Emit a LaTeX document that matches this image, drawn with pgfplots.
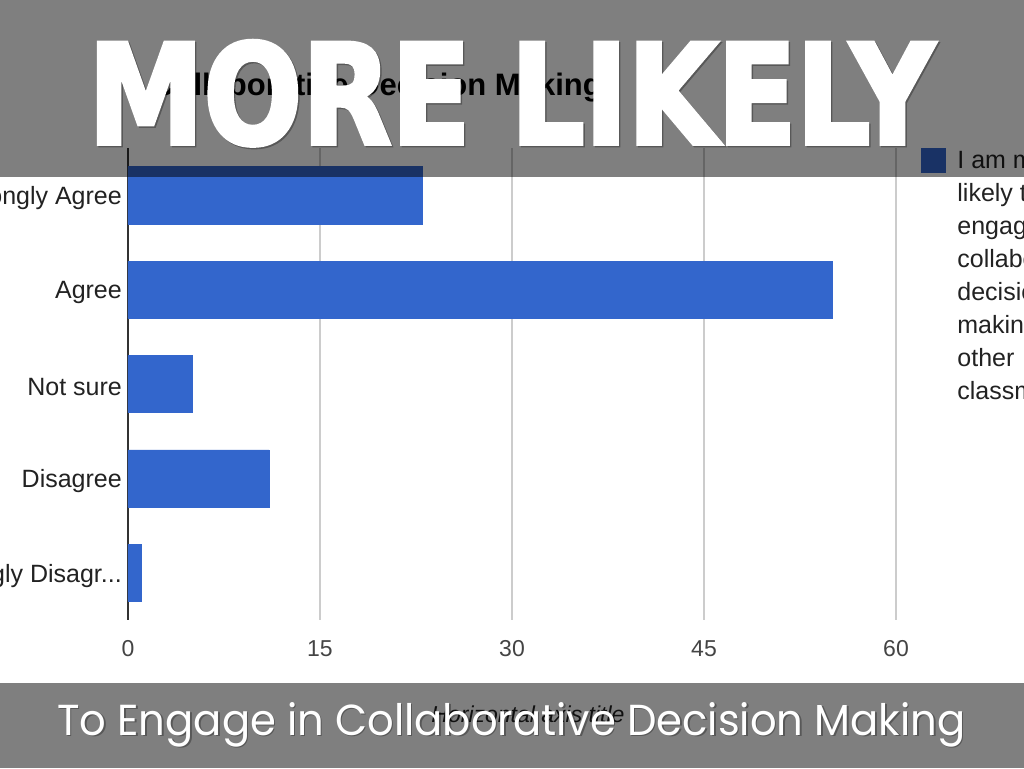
\documentclass[border=0pt]{standalone}
\usepackage{pgfplots}
\pgfplotsset{compat=1.18}
\usepackage{fontspec}
\setmainfont{Liberation Sans}
\newfontfamily\bigfont{DejaVu Sans Condensed Bold}[FakeBold=3]
\newfontfamily\subfont{Poppins}
\definecolor{barblue}{HTML}{3366CC}
\definecolor{gridgray}{HTML}{CCCCCC}
\definecolor{axisgray}{HTML}{333333}
\definecolor{tickgray}{HTML}{444444}
\definecolor{labelblack}{HTML}{222222}
\begin{document}
\begin{tikzpicture}[x=1pt,y=1pt]
\useasboundingbox (0,0) rectangle (1024,768);
\clip (0,0) rectangle (1024,768);
\fill[white] (0,0) rectangle (1024,768);
\begin{axis}[
  at={(128pt,148pt)}, anchor=south west,
  scale only axis, width=768pt, height=472pt,
  xbar, bar width=0.605,
  xmin=0, xmax=60, ymin=-0.5, ymax=4.5, y dir=reverse,
  xtick={0,15,30,45,60}, ytick={0,1,2,3,4},
  yticklabels={{Strongly Agree},{Agree},{Not sure},{Disagree},{Strongly Disagr{...}}},
  major tick length=0pt,
  xmajorgrids, major grid style={draw=gridgray, line width=1.5pt},
  axis y line*=left, axis x line*=bottom,
  x axis line style={draw=none},
  y axis line style={draw=axisgray, line width=2.5pt, -},
  /pgf/number format/assume math mode=true,
  xticklabel style={font=\fontsize{23}{23}\selectfont, text=tickgray, inner sep=0pt, yshift=-20pt},
  yticklabel style={font=\fontsize{25}{25}\selectfont, text=labelblack, inner sep=0pt, xshift=-6pt, yshift=-3pt},
  title={Collaborative Decision Making},
  title style={at={(0,1)}, anchor=base west, xshift=24pt, yshift=47pt, font=\bfseries\fontsize{31}{31}\selectfont, text=black, inner sep=0pt},
  xlabel={Horizontal axis title},
  xlabel style={at={(axis description cs:0.5,0)}, anchor=base, yshift=-102pt, xshift=16pt, font=\itshape\fontsize{23}{23}\selectfont, text=labelblack, inner sep=0pt},
  legend style={at={(1,1)}, anchor=north west, xshift=25pt, draw=none, fill=none, inner sep=0pt, outer sep=0pt, column sep=12pt, row sep=7pt, font=\fontsize{25}{25}\selectfont, text=labelblack, nodes={inner sep=0pt, anchor=base west, text height=20pt, text depth=6pt}},
]
\addplot[fill=barblue, draw=barblue, legend image code/.code={\fill[barblue] (0pt,-4pt) rectangle (24pt,20pt);}]
  coordinates {(23,0) (55,1) (5,2) (11,3) (1,4)};
\addlegendentry{I am more}
\addlegendimage{empty legend}\addlegendentry{likely to}
\addlegendimage{empty legend}\addlegendentry{engage in}
\addlegendimage{empty legend}\addlegendentry{collaborative}
\addlegendimage{empty legend}\addlegendentry{decision}
\addlegendimage{empty legend}\addlegendentry{making with}
\addlegendimage{empty legend}\addlegendentry{other}
\addlegendimage{empty legend}\addlegendentry{classmates}
\end{axis}
\fill[black, opacity=0.5] (0,591) rectangle (1024,768);
\fill[black, opacity=0.5] (0,0) rectangle (1024,85);
\node[anchor=south west, inner sep=0pt, text=black, opacity=0.3] at (89.5,620.5) {\resizebox{846pt}{103pt}{\bigfont MORE LIKELY}};
\node[anchor=south west, inner sep=0pt, text=white] at (88,622) {\resizebox{846pt}{103pt}{\bigfont MORE LIKELY}};
\node[anchor=base west, inner sep=0pt, text=black, opacity=0.3] at (58.5,31.5) {\resizebox{908pt}{33pt}{\subfont To Engage in Collaborative Decision Making}};
\node[anchor=base west, inner sep=0pt, text=white] at (57,33) {\resizebox{908pt}{33pt}{\subfont To Engage in Collaborative Decision Making}};
\end{tikzpicture}
\end{document}
